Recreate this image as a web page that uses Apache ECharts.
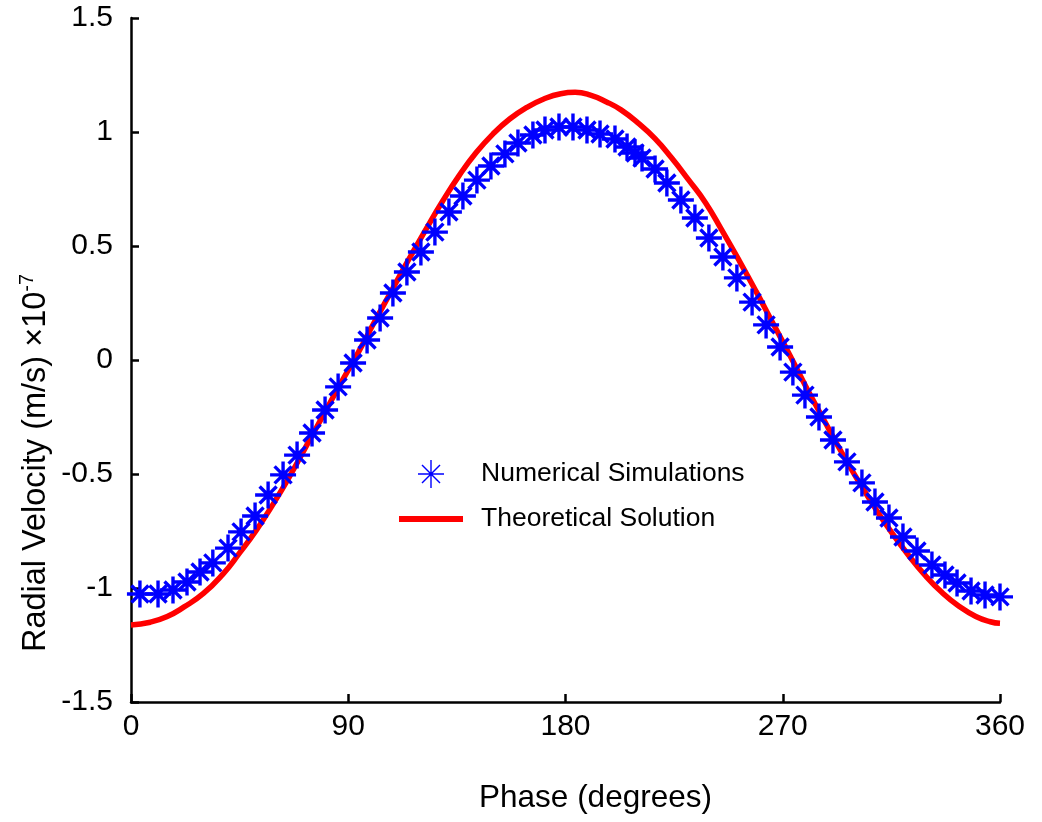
<!DOCTYPE html>
<html>
<head>
<meta charset="utf-8">
<script src="https://cdn.jsdelivr.net/npm/echarts/dist/echarts.min.js"></script>
<style>
html,body{margin:0;padding:0;background:#fff;}
#chart{width:1042px;height:822px;}
</style>
</head>
<body>
<div id="chart"></div>
<script>
// ---- data ----
var xTicks = [0, 90, 180, 270, 360];
var yTicks = [-1.5, -1, -0.5, 0, 0.5, 1, 1.5];

var simPhase = [3.7, 11.2, 17.4, 23.2, 28.6, 33.9, 40.2, 45.6, 51.4, 56.8, 63.0, 68.8, 75.0, 80.4, 85.8, 92.0,
  97.8, 103.2, 108.5, 114.3, 120.1, 125.9, 131.7, 137.5, 143.3, 149.1, 154.9, 160.3, 166.5, 171.5, 177.3, 183.1,
  188.9, 194.3, 200.5, 205.5, 208.8, 211.7, 217.1, 222.0, 227.8, 233.6, 239.4, 245.2, 251.0, 257.3, 263.1, 268.9,
  274.2, 279.2, 285.0, 290.8, 296.6, 302.8, 308.2, 314.0, 319.8, 325.6, 331.8, 337.2, 342.2, 348.0, 353.8, 360.0];
var simVelocity = [-1.026, -1.026, -1.009, -0.974, -0.930, -0.890, -0.825, -0.754, -0.684, -0.592, -0.504, -0.417, -0.320, -0.219, -0.118, -0.013,
  0.088, 0.184, 0.294, 0.386, 0.474, 0.561, 0.649, 0.719, 0.789, 0.851, 0.904, 0.952, 0.987, 1.009, 1.022, 1.022,
  1.009, 0.991, 0.969, 0.934, 0.908, 0.886, 0.838, 0.776, 0.702, 0.623, 0.535, 0.452, 0.360, 0.254, 0.154, 0.057,
  -0.053, -0.154, -0.250, -0.351, -0.447, -0.539, -0.623, -0.693, -0.776, -0.838, -0.899, -0.943, -0.978, -1.013, -1.031, -1.039];

var theoPhase = [0, 8, 15, 22, 30, 38, 45, 52, 59, 66, 73, 80, 87, 94, 101, 108, 115, 122, 129, 136, 143, 150, 157, 164, 171, 178,
  184, 190, 197, 203, 210, 217, 224, 231, 238, 245, 252, 259, 266, 273, 280, 287, 294, 301, 308, 315, 322, 329, 336, 343, 350, 356, 360];
var theoVelocity = [-1.162, -1.150, -1.125, -1.083, -1.024, -0.940, -0.846, -0.745, -0.630, -0.505, -0.370, -0.235, -0.100, 0.030, 0.170,
  0.305, 0.440, 0.570, 0.695, 0.810, 0.910, 0.992, 1.058, 1.108, 1.145, 1.168, 1.174, 1.163, 1.132, 1.097, 1.040, 0.972, 0.886,
  0.790, 0.690, 0.565, 0.435, 0.300, 0.160, 0.020, -0.125, -0.262, -0.398, -0.525, -0.645, -0.755, -0.855, -0.945, -1.020, -1.080,
  -1.125, -1.148, -1.155];

var seriesNames = ['Numerical Simulations', 'Theoretical Solution'];
var xName = 'Phase (degrees)';
var yNameMain = 'Radial Velocity (m/s) \u00d710';
var yNameSup = '-7';

// ---- build ----
var simData = simPhase.map(function (p, i) { return [p, simVelocity[i]]; });
var theoData = theoPhase.map(function (p, i) { return [p, theoVelocity[i]]; });

var star = 'path://M0,11.8 L26,11.8 L26,15.2 L0,15.2 Z M11.3,0 L14.7,0 L14.7,27 L11.3,27 Z ' +
  'M5.7,3.8 L22.7,20.8 L20.3,23.2 L3.3,6.2 Z ' +
  'M5.7,23.2 L3.3,20.8 L20.3,3.8 L22.7,6.2 Z';
var starThin = 'path://M0,13.3 L26,13.3 L26,14.7 L0,14.7 Z M12.3,0 L13.7,0 L13.7,28 L12.3,28 Z ' +
  'M4.5,4.5 L22.5,22.5 L21.5,23.5 L3.5,5.5 Z ' +
  'M4.5,23.5 L3.5,22.5 L21.5,4.5 L22.5,5.5 Z';

var FONT = 'Liberation Sans, Arial, Helvetica, sans-serif';
var chart = echarts.init(document.getElementById('chart'), null, {renderer: 'canvas'});
chart.setOption({
  animation: false,
  backgroundColor: '#ffffff',
  grid: {left: 131, right: 42, top: 18, bottom: 120},
  legend: [{
    data: [{name: seriesNames[0], icon: starThin}],
    left: 418, top: 459, padding: 0,
    itemWidth: 26, itemHeight: 28,
    textStyle: {fontSize: 26.5, fontFamily: FONT, color: '#000', lineHeight: 30, padding: [0, 0, 0, 32]}
  }, {
    data: [{name: seriesNames[1], icon: 'rect'}],
    left: 399, top: 504, padding: 0,
    itemWidth: 64, itemHeight: 6,
    textStyle: {fontSize: 26.5, fontFamily: FONT, color: '#000', lineHeight: 30, padding: [0, 0, 0, 13]}
  }],
  xAxis: {
    type: 'value', min: 0, max: 360, interval: 90,
    name: xName, nameLocation: 'middle', nameGap: 80,
    nameTextStyle: {fontSize: 31.5, fontFamily: FONT, color: '#000', padding: [0, 0, 0, 60]},
    axisLine: {onZero: false, lineStyle: {color: '#000', width: 2.5}},
    axisTick: {inside: true, length: 8, lineStyle: {color: '#000', width: 2.5}},
    axisLabel: {fontSize: 30, fontFamily: FONT, color: '#000', margin: 10,
      formatter: function (v) { return xTicks.indexOf(v) >= 0 ? String(v) : ''; }},
    splitLine: {show: false}
  },
  yAxis: {
    type: 'value', min: -1.5, max: 1.5, interval: 0.5,
    axisLine: {onZero: false, lineStyle: {color: '#000', width: 2.5}},
    axisTick: {inside: true, length: 8, lineStyle: {color: '#000', width: 2.5}},
    axisLabel: {fontSize: 30, fontFamily: FONT, color: '#000', margin: 18,
      formatter: function (v) { return yTicks.indexOf(v) >= 0 ? String(v) : ''; }},
    splitLine: {show: false}
  },
  graphic: [{
    type: 'text',
    x: 36, y: 463,
    rotation: Math.PI / 2,
    style: {
      text: '{b|' + yNameMain + '}{s|' + yNameSup + '}',
      align: 'center', verticalAlign: 'middle',
      rich: {
        b: {fontSize: 32.5, fontFamily: FONT, fill: '#000', lineHeight: 38},
        s: {fontSize: 20, fontFamily: FONT, fill: '#000', verticalAlign: 'top', lineHeight: 38}
      }
    }
  }],
  series: [{
    name: seriesNames[1],
    type: 'line',
    data: theoData,
    smooth: true,
    showSymbol: false,
    z: 2,
    lineStyle: {color: '#ff0000', width: 5.5},
    itemStyle: {color: '#ff0000'}
  }, {
    name: seriesNames[0],
    type: 'scatter',
    data: simData,
    symbol: star,
    symbolSize: [26, 27],
    z: 3,
    itemStyle: {color: '#0000ff', opacity: 1}
  }]
});
</script>
</body>
</html>
